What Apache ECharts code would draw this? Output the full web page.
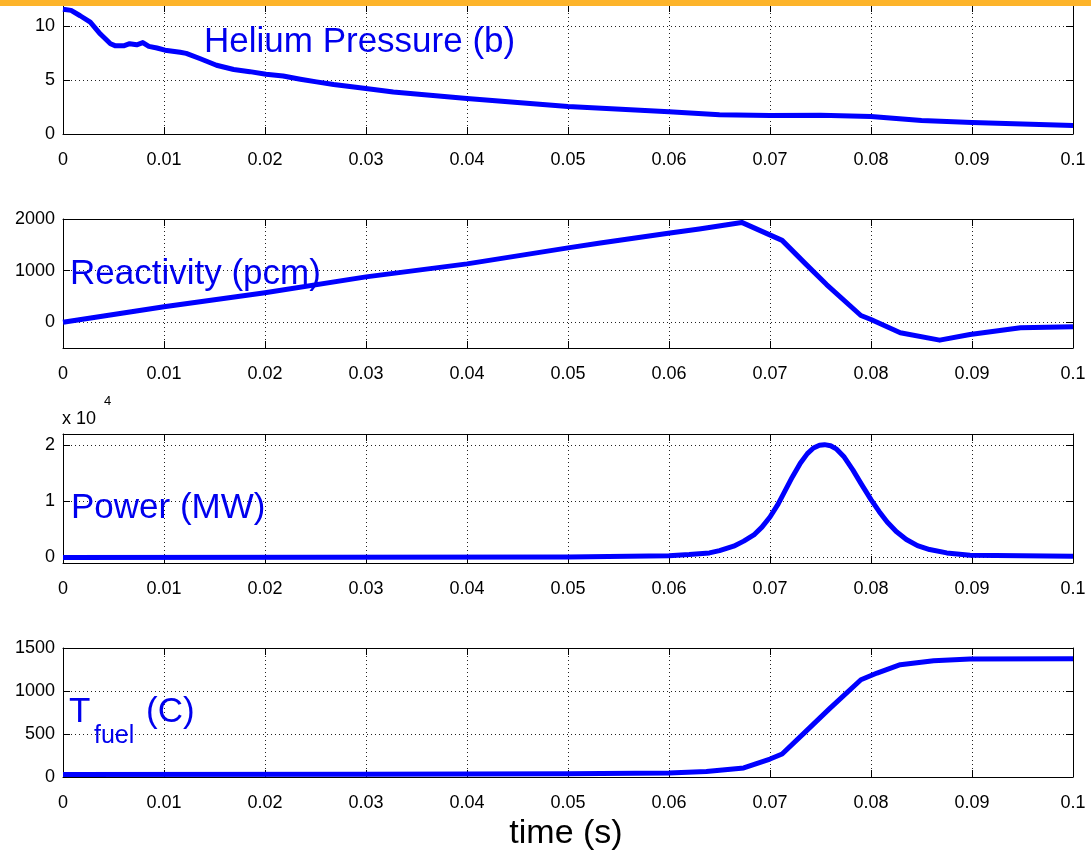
<!DOCTYPE html>
<html>
<head>
<meta charset="utf-8">
<title>transient</title>
<script src="https://cdn.jsdelivr.net/npm/echarts@6.0.0/dist/echarts.min.js"></script>
<style>
    html, body { margin: 0; padding: 0; background: #fff; }
    #main { width: 1091px; height: 858px; }
</style>
</head>
<body>
<div id="main"></div>
<script>
// time axis
var timeTicks = [0, 0.01, 0.02, 0.03, 0.04, 0.05, 0.06, 0.07, 0.08, 0.09, 0.1];

// helium pressure (b)
var heliumT = [0, 0.0008, 0.0017, 0.0027, 0.0037, 0.0047, 0.0052, 0.006, 0.0066, 0.0073, 0.0079, 0.0085, 0.0093, 0.0101, 0.0116, 0.0122, 0.0136, 0.0152, 0.0169, 0.0185, 0.0201, 0.0218, 0.0235, 0.0251, 0.0268, 0.0294, 0.0327, 0.04, 0.05, 0.06, 0.065, 0.07, 0.075, 0.08, 0.085, 0.09, 0.095, 0.1];
var heliumP = [11.6, 11.5, 11.0, 10.4, 9.3, 8.4, 8.2, 8.2, 8.4, 8.3, 8.5, 8.15, 8.0, 7.8, 7.6, 7.5, 7.0, 6.4, 6.0, 5.8, 5.55, 5.4, 5.1, 4.85, 4.6, 4.3, 3.9, 3.3, 2.55, 2.07, 1.8, 1.72, 1.75, 1.62, 1.25, 1.08, 0.93, 0.8];
var heliumTicks = [0, 5, 10];

// reactivity (pcm)
var reactT = [0, 0.01, 0.02, 0.03, 0.04, 0.05, 0.0532, 0.0601, 0.063, 0.0672, 0.0712, 0.0736, 0.0756, 0.079, 0.08, 0.0829, 0.0868, 0.0898, 0.0948, 0.1];
var reactV = [0, 298, 569, 878, 1130, 1440, 1535, 1729, 1807, 1934, 1586, 1116, 729, 130, 52, -205, -348, -238, -108, -89];
var reactTicks = [0, 1000, 2000];

// power (MW, x 10^4)
var powerT = [0, 0.05, 0.06, 0.062, 0.064, 0.065, 0.0664, 0.0674, 0.0684, 0.0692, 0.07, 0.0708, 0.0715, 0.0722, 0.073, 0.0737, 0.0743, 0.0749, 0.0754, 0.076, 0.0766, 0.0773, 0.0782, 0.079, 0.08, 0.0808, 0.0816, 0.0825, 0.0835, 0.0846, 0.0858, 0.0875, 0.0898, 0.1];
var powerV = [0, 0.005, 0.03, 0.05, 0.08, 0.12, 0.2, 0.29, 0.4, 0.54, 0.72, 0.95, 1.19, 1.43, 1.68, 1.85, 1.95, 2.0, 2.01, 1.99, 1.93, 1.8, 1.56, 1.32, 1.03, 0.82, 0.63, 0.46, 0.32, 0.21, 0.14, 0.08, 0.04, 0.02];
var powerTicks = [0, 1, 2];

// fuel temperature (C)
var tempT = [0, 0.03, 0.05, 0.06, 0.0637, 0.0674, 0.07, 0.0712, 0.0735, 0.0759, 0.079, 0.0806, 0.0829, 0.0862, 0.0898, 0.1];
var tempV = [30, 32, 38, 47, 65, 105, 209, 267, 525, 795, 1131, 1209, 1306, 1352, 1372, 1376];
var tempTicks = [0, 500, 1000, 1500];

var FONT = 'Liberation Sans';
var BLUE = '#0000ff';
var TXT_BLUE = '#0000ee';
var LABEL_SIZE = 18;

function zip(xs, ys) {
    var out = [];
    for (var i = 0; i < xs.length; i++) out.push([xs[i], ys[i]]);
    return out;
}

function plain(v) {
    return String(v);
}

function xAxes(idx) {
    var bottom = {
        type: 'value', gridIndex: idx, position: 'bottom',
        min: 0, max: 0.1,
        axisLine: { show: true, onZero: false, lineStyle: { color: '#000', width: 1 } },
        axisTick: { show: true, inside: true, length: 7, customValues: timeTicks, lineStyle: { color: '#000' } },
        axisLabel: { show: true, margin: 17, customValues: timeTicks, formatter: plain, fontFamily: FONT, fontSize: LABEL_SIZE, color: '#000' },
        splitLine: { show: true, lineStyle: { color: '#222', width: 1, type: [1, 3] } }
    };
    var top = {
        type: 'value', gridIndex: idx, position: 'top',
        min: 0, max: 0.1,
        axisLine: { show: true, onZero: false, lineStyle: { color: '#000', width: 1 } },
        axisTick: { show: true, inside: true, length: 7, customValues: timeTicks, lineStyle: { color: '#000' } },
        axisLabel: { show: false },
        splitLine: { show: false }
    };
    return [bottom, top];
}

function yAxes(idx, min, max, ticks) {
    var left = {
        type: 'value', gridIndex: idx, position: 'left',
        min: min, max: max,
        axisLine: { show: true, onZero: false, lineStyle: { color: '#000', width: 1 } },
        axisTick: { show: true, inside: true, length: 7, customValues: ticks, lineStyle: { color: '#000' } },
        axisLabel: { show: true, margin: 8, customValues: ticks, formatter: plain, fontFamily: FONT, fontSize: LABEL_SIZE, color: '#000' },
        splitLine: { show: true, lineStyle: { color: '#222', width: 1, type: [1, 3] } }
    };
    var right = {
        type: 'value', gridIndex: idx, position: 'right',
        min: min, max: max,
        axisLine: { show: true, onZero: false, lineStyle: { color: '#000', width: 1 } },
        axisTick: { show: true, inside: true, length: 7, customValues: ticks, lineStyle: { color: '#000' } },
        axisLabel: { show: false },
        splitLine: { show: false }
    };
    return [left, right];
}

function lineSeries(idx, data) {
    return {
        type: 'line',
        xAxisIndex: idx * 2,
        yAxisIndex: idx * 2,
        data: data,
        showSymbol: false,
        lineStyle: { color: BLUE, width: 5, join: 'round' },
        itemStyle: { color: BLUE },
        animation: false
    };
}

function label(x, y, text, size, color, align) {
    return {
        type: 'text', x: x, y: y, z: 50,
        style: {
            text: text, fill: color, font: size + 'px "' + FONT + '"',
            align: align || 'left', verticalAlign: 'middle'
        }
    };
}

var tops = [5, 219, 434, 648];
var grids = tops.map(function (t) {
    return { left: 63, width: 1010, top: t, height: 129 };
});

var xs = [].concat(xAxes(0), xAxes(1), xAxes(2), xAxes(3));
var ys = [].concat(
    yAxes(0, 0, 12, heliumTicks),
    yAxes(1, -500, 2000, reactTicks),
    yAxes(2, -0.1, 2.2, powerTicks),
    yAxes(3, 0, 1500, tempTicks)
);

var chart = echarts.init(document.getElementById('main'), null, { renderer: 'canvas' });
var option = {
    backgroundColor: '#fff',
    animation: false,
    grid: grids,
    xAxis: xs,
    yAxis: ys,
    series: [
        lineSeries(0, zip(heliumT, heliumP)),
        lineSeries(1, zip(reactT, reactV)),
        lineSeries(2, zip(powerT, powerV)),
        lineSeries(3, zip(tempT, tempV))
    ],
    graphic: [
        // orange band at the top of the slide
        { type: 'rect', left: 0, top: 0, z: 100, shape: { width: 1091, height: 6 }, style: { fill: '#fdb42a' } },
        label(204, 42, 'Helium Pressure (b)', 35, TXT_BLUE),
        label(70, 274, 'Reactivity (pcm)', 35, TXT_BLUE),
        label(71, 508, 'Power (MW)', 35, TXT_BLUE),
        label(69, 712, 'T', 35, TXT_BLUE),
        label(94, 736, 'fuel', 25, TXT_BLUE),
        label(146, 712, '(C)', 35, TXT_BLUE),
        label(62, 419, 'x 10', LABEL_SIZE, '#000'),
        label(104, 401, '4', 13, '#000'),
        label(566, 834, 'time (s)', 34, '#000', 'center')
    ]
};
chart.setOption(option);
</script>
</body>
</html>
